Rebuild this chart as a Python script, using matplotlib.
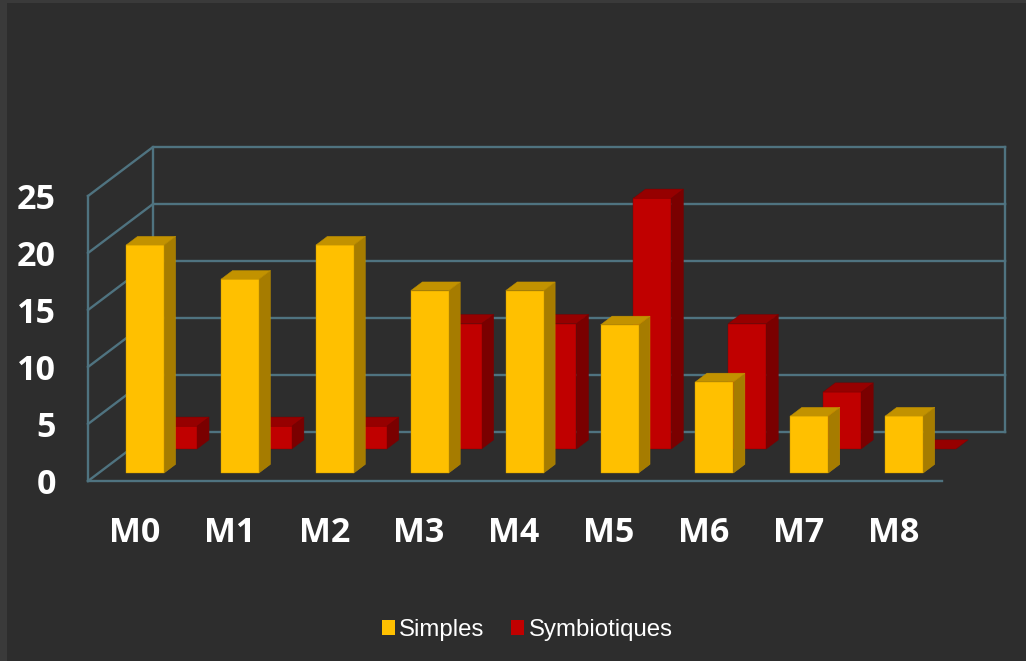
import matplotlib.pyplot as plt
from matplotlib.patches import Patch, Polygon, Rectangle

# Values
months = ["M0", "M1", "M2", "M3", "M4", "M5", "M6", "M7", "M8"]
simples = [20, 17, 20, 16, 16, 13, 8, 5, 5]
symbiotiques = [2, 2, 2, 11, 11, 22, 11, 5, 0]
y_ticks = [0, 5, 10, 15, 20, 25]

# Colours: front, top, side
yellow = ("#ffc000", "#c29200", "#a67c00")
red = ("#c00000", "#960000", "#7a0000")
grid_color = "#4f7380"
bg = "#2d2d2d"

W, H = 1026, 661
fig = plt.figure(figsize=(W / 100, H / 100), dpi=100, facecolor="#3a3a3a")
fig.patches.append(Rectangle((7 / W, 0), 1 - 7 / W, 1 - 3 / H, transform=fig.transFigure,
                             facecolor=bg, edgecolor="none", zorder=-10))

# Front plane of the fake 3D box
ax = fig.add_axes([88 / W, 1 - 481 / H, 854 / W, 285 / H])
ax.patch.set_visible(False)
ax.set_xlim(0, len(months))
ax.set_ylim(0, 25)

# Depth vector of the box in data units
DEPTH_X = 65 / (854 / len(months))
DEPTH_Y = 49 / (285 / 25)


def proj(x, v, d):
    return x + d * DEPTH_X, v + d * DEPTH_Y


def line(pts):
    xs, ys = zip(*pts)
    ax.plot(xs, ys, color=grid_color, lw=1.7, clip_on=False, solid_capstyle="projecting", zorder=1)


# Walls and gridlines
n = len(months)
back_right = n - 0.02
for t in y_ticks:
    line([proj(0, t, 0), proj(0, t, 1), proj(back_right, t, 1)])
line([proj(0, 0, 0), proj(0, 25, 0)])
line([proj(0, 0, 1), proj(0, 25, 1)])
line([proj(back_right, 0, 1), proj(back_right, 25, 1)])
line([proj(0, 0, 0), proj(n, 0, 0)])


def bar3d(center, value, d0, d1, colors, zorder):
    w = 0.2
    l, r = center - w, center + w
    front = [proj(l, 0, d0), proj(r, 0, d0), proj(r, value, d0), proj(l, value, d0)]
    top = [proj(l, value, d0), proj(r, value, d0), proj(r, value, d1), proj(l, value, d1)]
    side = [proj(r, 0, d0), proj(r, 0, d1), proj(r, value, d1), proj(r, value, d0)]
    edge = colors[1] if colors is yellow else colors[2]
    for pts, c in ((side, colors[2]), (front, colors[0]), (top, colors[1])):
        if value == 0 and pts is not top:
            continue
        ax.add_patch(Polygon(pts, closed=True, facecolor=c, edgecolor=edge, lw=0.3,
                             clip_on=False, zorder=zorder))


# Reds sit further back, so they go first
for i, v in enumerate(symbiotiques):
    bar3d(i + 0.5, v, 0.653, 0.84, red, 2)
for i, v in enumerate(simples):
    bar3d(i + 0.49, v, 0.163, 0.34, yellow, 3)

for s in ax.spines.values():
    s.set_visible(False)
ax.set_xticks([i + 0.49 for i in range(n)])
ax.set_xticklabels(months, fontfamily="Open Sans", fontweight="bold", fontsize=24.5, color="white")
ax.set_yticks(y_ticks)
ax.set_yticklabels([str(t) for t in y_ticks], fontfamily="Open Sans", fontweight="bold", fontsize=24.5, color="white")
ax.tick_params(axis="x", length=0, pad=25.5)
ax.tick_params(axis="y", length=0, pad=23)

handles = [Patch(facecolor=yellow[0], label="Simples"), Patch(facecolor=red[0], label="Symbiotiques")]
fig.legend(handles=handles, loc="center", bbox_to_anchor=(527 / W, 1 - 630 / H), ncol=2, frameon=False,
           prop={"family": "Liberation Sans", "size": 17.3}, labelcolor="white",
           handlelength=0.54, handleheight=0.54, handletextpad=0.2, columnspacing=1.08)

fig.savefig("out.png", dpi=100, facecolor=fig.get_facecolor())
